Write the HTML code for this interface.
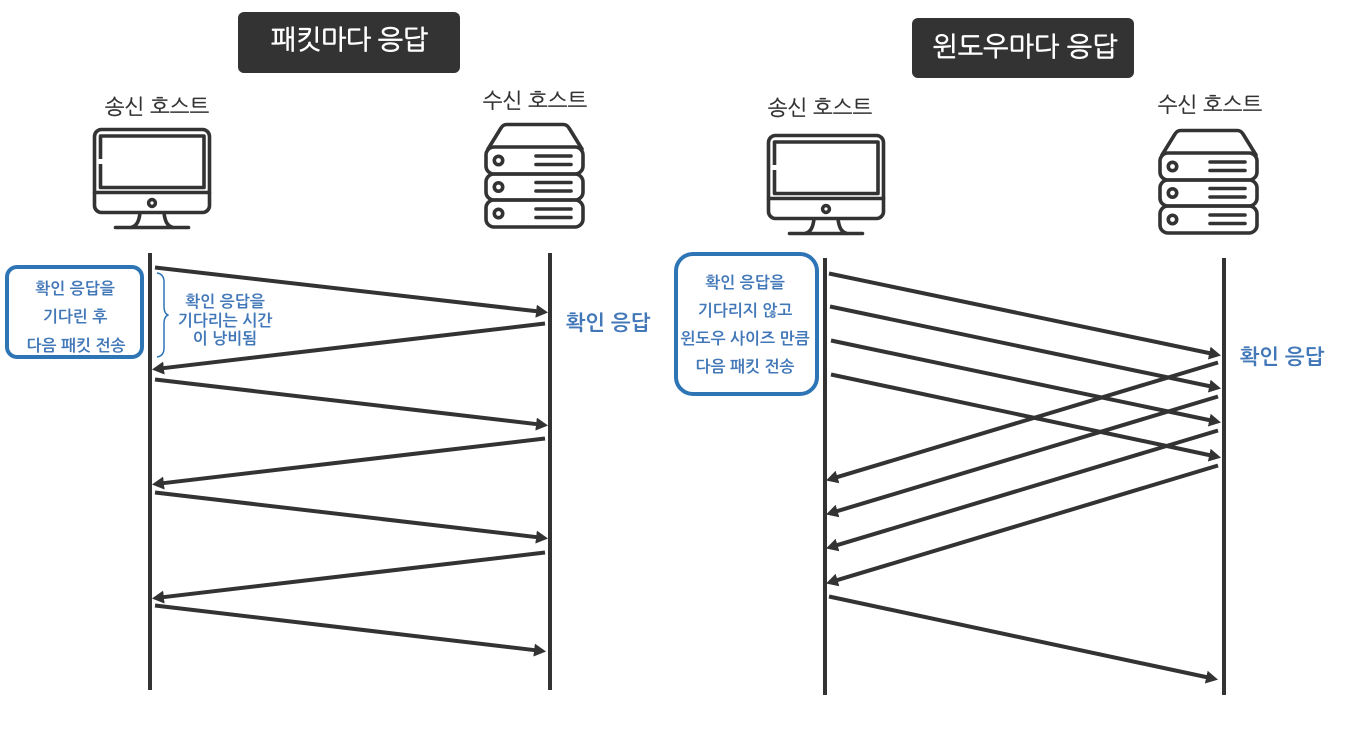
<!DOCTYPE html>
<html lang="ko"><head><meta charset="utf-8"><style>
html,body{margin:0;padding:0;background:#fff;width:1356px;height:733px;overflow:hidden}
svg{display:block}
text{font-family:"Liberation Sans","NanumGothic","Noto Sans CJK KR",sans-serif;text-anchor:middle}
.t{font-size:27px;font-weight:400;fill:#fff;stroke:#fff;stroke-width:.6px}
.h{font-size:21px;fill:#333;font-weight:400;stroke:#333;stroke-width:.3px}
.b{font-size:16px;font-weight:700;fill:#4378b8}
.a{font-size:21px;font-weight:700;fill:#4378b8}
.ic{fill:none;stroke:#333;stroke-width:3.6;stroke-linecap:round;stroke-linejoin:round}
.l{stroke:#333;stroke-width:4;fill:none}
.v{stroke:#333;stroke-width:4;fill:none}
.box{fill:#fff;stroke:#2e75b6;stroke-width:4}
</style></head><body>
<svg width="1356" height="733" viewBox="0 0 1356 733" xmlns="http://www.w3.org/2000/svg">
<defs>
<marker id="m" markerUnits="userSpaceOnUse" markerWidth="15" markerHeight="14" refX="2" refY="6.500" orient="auto"><path d="M0 0L12 6.500L0 13Z" fill="#333"/></marker>
<g id="pc">
<rect x="94.500" y="129.500" width="115" height="83" rx="7" class="ic"/>
<path d="M100.500 159V136H204V187.500H100.500V164" class="ic" style="stroke-linecap:butt"/>
<path d="M94.500 192.500H209.500" class="ic"/>
<circle cx="152" cy="203" r="3.400" class="ic"/>
<path d="M140 213C139 221 137 226 131 227.500M164 213C165 221 167 226 173 227.500M115.500 227.500H188.500" class="ic"/>
</g>
<g id="sv">
<path d="M488 149L501 128Q503 124.500 507 124.500H563Q567 124.500 569 128L582 149" class="ic"/>
<rect x="486" y="147" width="97" height="27" rx="8" class="ic"/>
<rect x="486" y="174" width="97" height="26" rx="8" class="ic"/>
<rect x="486" y="200" width="97" height="27" rx="8" class="ic"/>
<circle cx="498.500" cy="160.500" r="4.200" class="ic"/><circle cx="498.500" cy="187" r="4.200" class="ic"/><circle cx="498.500" cy="213.500" r="4.200" class="ic"/>
<path d="M536 156H571M536 164.500H571M536 182.500H571M536 191H571M536 209H571M536 217.500H571" class="ic"/>
</g>
</defs>

<rect x="238" y="12" width="222" height="61" rx="6" fill="#333"/>
<text x="349.500" y="49" class="t" textLength="157" lengthAdjust="spacing">패킷마다 응답</text>
<rect x="912" y="18" width="222" height="60" rx="6" fill="#333"/>
<text x="1025" y="56" class="t">윈도우마다 응답</text>

<text x="157" y="114" class="h">송신 호스트</text>
<text x="535" y="108" class="h">수신 호스트</text>
<text x="820" y="115" class="h">송신 호스트</text>
<text x="1210" y="112" class="h">수신 호스트</text>

<use href="#pc"/><use href="#pc" x="674" y="6"/>
<use href="#sv"/><use href="#sv" x="674" y="6"/>

<path class="v" d="M150 253V690M550 253V690M825 258V695M1224 258V695"/>

<path class="l" marker-end="url(#m)" d="M155 267.500L538.100 311.400"/>
<path class="l" marker-end="url(#m)" d="M545 323.500L161.900 368.300"/>
<path class="l" marker-end="url(#m)" d="M155 379.500L538.100 424.300"/>
<path class="l" marker-end="url(#m)" d="M545 438.500L161.900 483.300"/>
<path class="l" marker-end="url(#m)" d="M155 492.500L538.100 537.300"/>
<path class="l" marker-end="url(#m)" d="M545 552.500L161.900 597.300"/>
<path class="l" marker-end="url(#m)" d="M155 605.500L536.100 650.300"/>
<path class="l" marker-end="url(#m)" d="M829 273.500L1211.200 353.500"/>
<path class="l" marker-end="url(#m)" d="M830 306.500L1211.200 386.500"/>
<path class="l" marker-end="url(#m)" d="M831 340.500L1211.200 420.500"/>
<path class="l" marker-end="url(#m)" d="M831 374.500L1211.200 455.500"/>
<path class="l" marker-end="url(#m)" d="M1218 362.500L835.600 477.600"/>
<path class="l" marker-end="url(#m)" d="M1218 396.500L835.600 511.600"/>
<path class="l" marker-end="url(#m)" d="M1218 430.500L835.600 545.600"/>
<path class="l" marker-end="url(#m)" d="M1218 465.500L835.600 580.600"/>
<path class="l" marker-end="url(#m)" d="M829 596.500L1208.200 677.500"/>

<rect x="7" y="267" width="135" height="90" rx="10" class="box"/>
<text x="75" y="294" class="b">확인 응답을</text>
<text x="75" y="322" class="b">기다린 후</text>
<text x="76" y="351" class="b">다음 패킷 전송</text>

<path d="M157 273Q164 274 164 282V306Q164 314 168.500 315Q164 316 164 324V348Q164 356 157 357" fill="none" stroke="#2e75b6" stroke-width="1.500"/>
<text x="225" y="307" class="b">확인 응답을</text>
<text x="225" y="326" class="b">기다리는 시간</text>
<text x="225" y="344" class="b">이 낭비됨</text>

<rect x="676" y="254" width="141" height="140" rx="17" class="box"/>
<text x="745" y="288" class="b">확인 응답을</text>
<text x="745" y="316" class="b">기다리지 않고</text>
<text x="745" y="344" class="b">윈도우 사이즈 만큼</text>
<text x="745" y="372" class="b">다음 패킷 전송</text>

<text x="608" y="330" class="a">확인 응답</text>
<text x="1282" y="364" class="a">확인 응답</text>
</svg>
</body></html>
